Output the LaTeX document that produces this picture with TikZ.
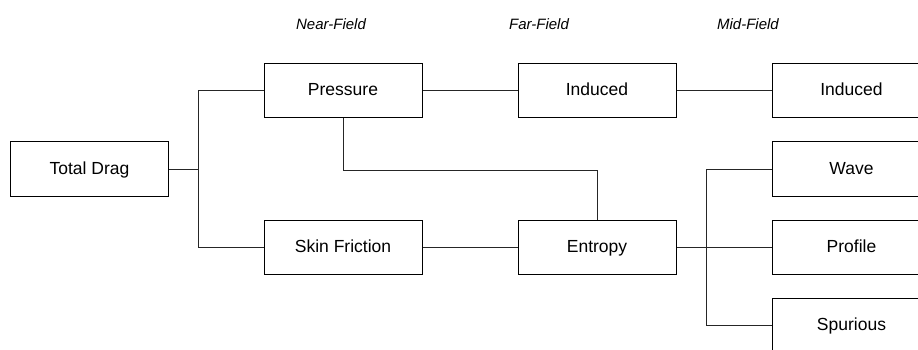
\documentclass[tikz,border=0pt]{standalone}
\usepackage{fontspec}
\setmainfont{Liberation Sans}
\begin{document}
\begin{tikzpicture}[x=1pt,y=-1pt,
  box/.style={draw=black, line width=1pt, fill=white, minimum width=158pt, minimum height=54pt,
    inner sep=0pt, text height=12.6pt, text depth=2.1pt, font=\fontsize{17.5}{20}\selectfont},
  head/.style={font=\fontsize{15}{18}\selectfont\itshape},
  link/.style={draw=black!85, line width=1pt}]
\clip (0,0) rectangle (918,350);
% column headings
\node[head] (nf) at (331,24) {Near-Field};
\node[head] (ff) at (539,24) {Far-Field};
\node[head] (mf) at (748,24) {Mid-Field};
% boxes
\node[box] (total) at (89.5,169) {Total Drag};
\node[box] (press) at (343,90.5) {Pressure};
\node[box] (skin) at (343,247) {Skin Friction};
\node[box] (indff) at (597,90.5) {Induced};
\node[box] (entropy) at (597,247) {Entropy};
\node[box] (indmf) at (851.5,90.5) {Induced};
\node[box] (wave) at (851.5,169) {Wave};
\node[box] (profile) at (851.5,247) {Profile};
\node[box] (spur) at (851.5,325) {Spurious};
% junction points
\coordinate (jl) at (198,169);
\coordinate (jr) at (706,247);
\coordinate (jp) at (343,170);
% connectors
\draw[link] (total.east) -- (jl);
\draw[link] (jl) |- (press.west);
\draw[link] (jl) |- (skin.west);
\draw[link] (press.east) -- (indff.west);
\draw[link] (indff.east) -- (indmf.west);
\draw[link] (skin.east) -- (entropy.west);
\draw[link] (press.south) -- (jp) -| (entropy.north);
\draw[link] (entropy.east) -- (jr);
\draw[link] (jr) |- (wave.west);
\draw[link] (jr) -- (profile.west);
\draw[link] (jr) |- (spur.west);
\end{tikzpicture}
\end{document}
